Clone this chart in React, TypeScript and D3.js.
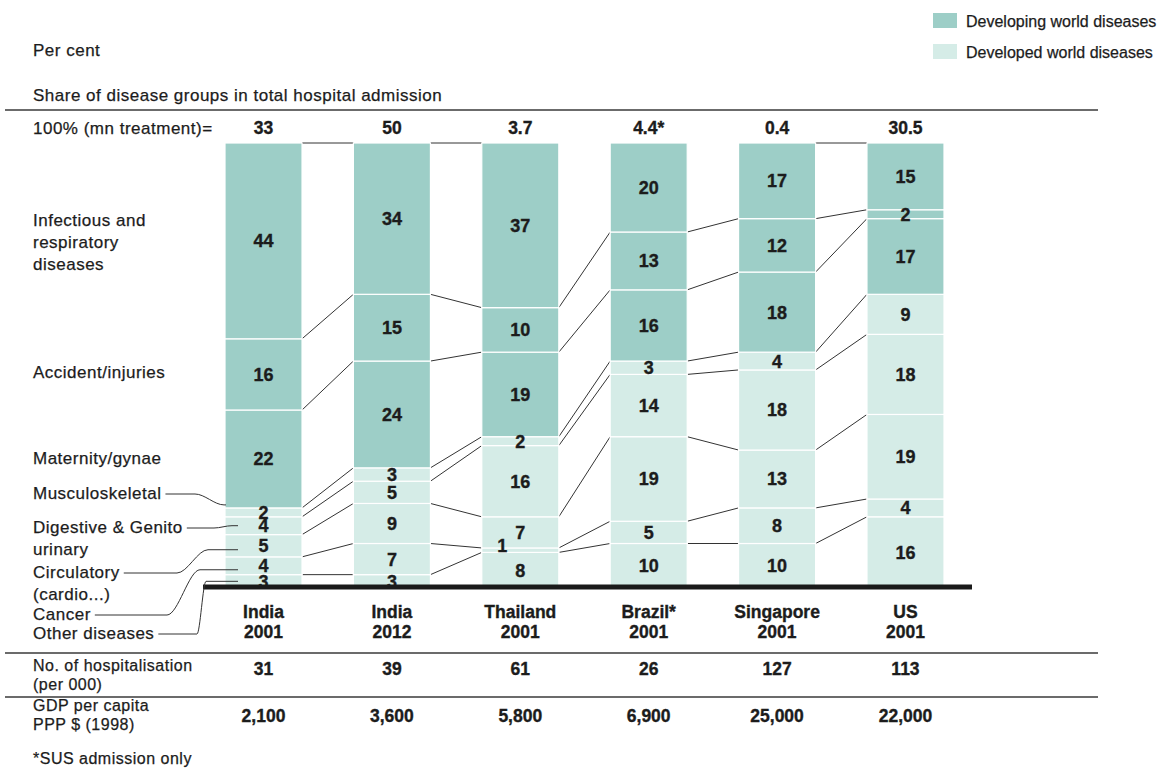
import { useEffect, useRef } from "react";
import * as d3 from "d3";

// Countries / years along the x axis
const countries = ["India", "India", "Thailand", "Brazil*", "Singapore", "US"];
const years = ["2001", "2012", "2001", "2001", "2001", "2001"];
const totals = ["33", "50", "3.7", "4.4*", "0.4", "30.5"];
const hospitalisations = ["31", "39", "61", "26", "127", "113"];
const gdpPerCapita = ["2,100", "3,600", "5,800", "6,900", "25,000", "22,000"];

// Disease groups, bottom of the stack first
const groupKeys = ["other", "cancer", "circulatory", "digestive", "musculo", "maternity", "accident", "infectious"];
const groupLabels = [
  ["Other diseases"],
  ["Cancer"],
  ["Circulatory", "(cardio...)"],
  ["Digestive & Genito", "urinary"],
  ["Musculoskeletal"],
  ["Maternity/gynae"],
  ["Accident/injuries"],
  ["Infectious and", "respiratory", "diseases"],
];
const developingWorld = [false, false, false, false, false, true, true, true];

// Share of admissions (%), one value per country
const otherDiseases = [3, 3, 8, 10, 10, 16];
const cancer = [4, 7, 1, 5, 8, 4];
const circulatory = [5, 9, 7, 19, 13, 19];
const digestive = [4, 5, 16, 14, 18, 18];
const musculoskeletal = [2, 3, 2, 3, 4, 9];
const maternity = [22, 24, 19, 16, 18, 17];
const accidents = [16, 15, 10, 13, 12, 2];
const infectious = [44, 34, 37, 20, 17, 15];
const groupValues = [otherDiseases, cancer, circulatory, digestive, musculoskeletal, maternity, accidents, infectious];

// whether the 100% top edges of neighbouring bars are joined
const topLinks = [true, true, false, false, true];

const W = 1162;
const H = 769;

export default function App() {
  const svgRef = useRef<SVGSVGElement>(null);

  useEffect(() => {
    if (!svgRef.current) return;
    const svg = d3.select(svgRef.current);
    svg.selectAll("*").remove();

    const font = '"Liberation Sans", Arial, Helvetica, sans-serif';
    const ink = "#1c1c1c";
    const dark = "#9dcec7";
    const light = "#d5ece7";

    const x = d3.scaleBand<number>()
      .domain(d3.range(countries.length))
      .range([225, 944])
      .paddingInner(0.4)
      .paddingOuter(0);
    const bw = x.bandwidth();
    const cx = (i: number) => (x(i) as number) + bw / 2;

    const y = d3.scaleLinear().domain([0, 100]).range([588, 143]);

    const rows = countries.map((_, i) => {
      const r: Record<string, number> = {};
      groupKeys.forEach((k, g) => (r[k] = groupValues[g][i]));
      return r;
    });
    const series = d3.stack<Record<string, number>>().keys(groupKeys)(rows);

    const regular = (sel: d3.Selection<SVGTextElement, unknown, null, undefined>) =>
      sel.attr("font-family", font).attr("font-size", 17).attr("letter-spacing", 0.5).attr("fill", ink)
        .attr("stroke", ink).attr("stroke-width", 0.25);
    const bold = (sel: d3.Selection<SVGTextElement, unknown, null, undefined>, size = 17.5) =>
      sel.attr("font-family", font).attr("font-size", size).attr("font-weight", "bold").attr("fill", ink)
        .attr("stroke", ink).attr("stroke-width", 0.35).attr("text-anchor", "middle");

    // Header texts
    svg.append("text").attr("x", 33).attr("y", 50).attr("dy", "0.35em").call(regular).text("Per cent");
    svg.append("text").attr("x", 33).attr("y", 95).attr("dy", "0.35em").call(regular)
      .text("Share of disease groups in total hospital admission");
    svg.append("text").attr("x", 33).attr("y", 128).attr("dy", "0.35em").call(regular).text("100% (mn treatment)=");

    // Legend
    const legend = [
      { label: "Developing world diseases", color: dark, y: 21 },
      { label: "Developed world diseases", color: light, y: 52 },
    ];
    legend.forEach((l) => {
      svg.append("rect").attr("x", 933).attr("y", l.y - 8).attr("width", 24).attr("height", 15).attr("fill", l.color);
      svg.append("text").attr("x", 966).attr("y", l.y).attr("dy", "0.35em").call(regular)
        .attr("font-size", 16).attr("letter-spacing", 0).text(l.label);
    });

    // Rules
    const rule = (yy: number) =>
      svg.append("line").attr("x1", 5).attr("x2", 1098).attr("y1", yy).attr("y2", yy)
        .attr("stroke", "#3a3a3a").attr("stroke-width", 1.3);
    rule(110);
    rule(653);
    rule(697);

    // Connectors between neighbouring bars at every segment boundary
    const conn = svg.append("g").attr("stroke", "#333").attr("stroke-width", 1).attr("fill", "none");
    for (let i = 0; i < countries.length - 1; i++) {
      series.forEach((s, k) => {
        if (k === series.length - 1 && !topLinks[i]) return;
        conn.append("line")
          .attr("x1", (x(i) as number) + bw)
          .attr("y1", y(s[i][1]))
          .attr("x2", x(i + 1) as number)
          .attr("y2", y(s[i + 1][1]));
      });
    }

    // Stacked segments
    series.forEach((s, g) => {
      svg.append("g").selectAll("rect").data(s).join("rect")
        .attr("x", (_, i) => x(i) as number)
        .attr("width", bw)
        .attr("y", (d) => y(d[1]))
        .attr("height", (d) => y(d[0]) - y(d[1]))
        .attr("fill", developingWorld[g] ? dark : light)
        .attr("stroke", "#fff")
        .attr("stroke-width", 1.2);
    });

    // Segment value labels
    series.forEach((s) => {
      s.forEach((d, i) => {
        const v = d[1] - d[0];
        const small = v < 2;
        svg.append("text")
          .attr("x", cx(i) - (small ? 18 : 0))
          .attr("y", y((d[0] + d[1]) / 2) - (small ? 5 : 0))
          .attr("dy", "0.36em")
          .call((t) => bold(t, 18))
          .text(v);
      });
    });

    // Baseline
    svg.append("line").attr("x1", 203).attr("x2", 972).attr("y1", 587).attr("y2", 587)
      .attr("stroke", "#1a1a1a").attr("stroke-width", 5);

    // Values above / below bars
    countries.forEach((c, i) => {
      svg.append("text").attr("x", cx(i)).attr("y", 128).attr("dy", "0.35em").call(bold).text(totals[i]);
      svg.append("text").attr("x", cx(i)).attr("y", 612).attr("dy", "0.35em").call(bold).text(c);
      svg.append("text").attr("x", cx(i)).attr("y", 632).attr("dy", "0.35em").call(bold).text(years[i]);
      svg.append("text").attr("x", cx(i)).attr("y", 669).attr("dy", "0.35em").call(bold).text(hospitalisations[i]);
      svg.append("text").attr("x", cx(i)).attr("y", 716).attr("dy", "0.35em").call(bold).text(gdpPerCapita[i]);
    });

    // Row labels of the table
    const rowText = (lines: string[], y0: number) =>
      lines.forEach((l, j) =>
        svg.append("text").attr("x", 33).attr("y", y0 + j * 19).attr("dy", "0.35em").call(regular).attr("font-size", 16).text(l));
    rowText(["No. of hospitalisation", "(per 000)"], 665);
    rowText(["GDP per capita", "PPP $ (1998)"], 705);
    svg.append("text").attr("x", 33).attr("y", 758).attr("dy", "0.35em").call(regular).attr("font-size", 16).text("*SUS admission only");

    // Disease group labels on the left, with leader lines for the small ones
    const labelY = [633, 614, 572, 527, 493, 458, 372, 220];
    const leaders: Record<number, { k1: number; k2: number; endX: number; endY: number }> = {
      0: { k1: 197, k2: 206, endX: 238, endY: y((series[0][0][0] + series[0][0][1]) / 2) },
      1: { k1: 167, k2: 200, endX: 238, endY: y((series[1][0][0] + series[1][0][1]) / 2) + 4 },
      2: { k1: 177, k2: 208, endX: 238, endY: y((series[2][0][0] + series[2][0][1]) / 2) + 4 },
      3: { k1: 214, k2: 232, endX: 238, endY: y((series[3][0][0] + series[3][0][1]) / 2) },
      4: { k1: 195, k2: 224, endX: 226, endY: y(series[4][0][1]) - 3 },
    };
    const leaderLine = d3.line<[number, number]>().curve(d3.curveMonotoneX);

    groupLabels.forEach((lines, g) => {
      let firstLen = 0;
      lines.forEach((l, j) => {
        const t = svg.append("text").attr("x", 33).attr("y", labelY[g] + j * 22).attr("dy", "0.35em").call(regular).text(l);
        if (j === 0) firstLen = (t.node() as SVGTextElement).getComputedTextLength();
      });
      const ld = leaders[g];
      if (!ld) return;
      const sx = 33 + firstLen + 4;
      const ty = labelY[g] + 1;
      const pts: [number, number][] = [
        [sx, ty],
        [Math.max(ld.k1, sx + 2), ty],
        [ld.k2, ld.endY],
        [ld.endX, ld.endY],
      ];
      svg.append("path").attr("d", leaderLine(pts)).attr("fill", "none").attr("stroke", "#333").attr("stroke-width", 1);
    });
  }, []);

  return (
    <div style={{ position: "absolute", left: 0, top: 0 }}>
      <svg ref={svgRef} width={W} height={H} viewBox={`0 0 ${W} ${H}`} style={{ display: "block", background: "#fff" }} />
    </div>
  );
}
